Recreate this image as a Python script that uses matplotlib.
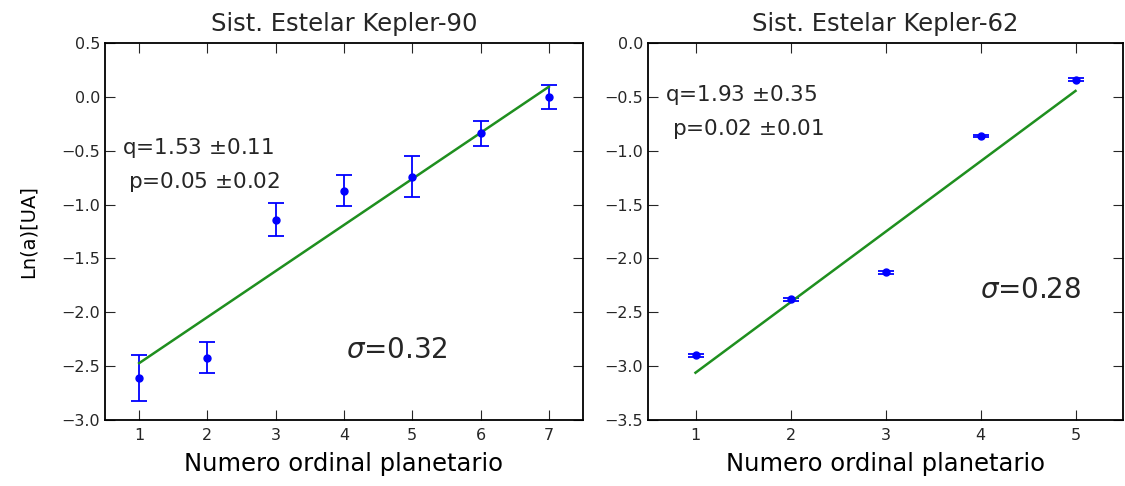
import numpy as np
import matplotlib
matplotlib.use("Agg")
import matplotlib.pyplot as plt

# Datos Kepler-90
n_k90 = [1, 2, 3, 4, 5, 6, 7]
lna_k90 = [-2.61, -2.42, -1.14, -0.87, -0.74, -0.34, 0.00]
err_k90 = [0.21, 0.14, 0.15, 0.14, 0.19, 0.12, 0.11]
fit_k90 = [-2.90, 0.4277]   # intercepto, pendiente

# Datos Kepler-62
n_k62 = [1, 2, 3, 4, 5]
lna_k62 = [-2.90, -2.38, -2.13, -0.86, -0.34]
err_k62 = [0.012, 0.012, 0.010, 0.010, 0.012]
fit_k62 = [-3.715, 0.654]

titulos = ["Sist. Estelar Kepler-90", "Sist. Estelar Kepler-62"]
xlabel = "Numero ordinal planetario"
ylabel = "Ln(a)[UA]"

plt.rcParams['font.family'] = 'DejaVu Sans'
plt.rcParams['xtick.direction'] = 'in'
plt.rcParams['ytick.direction'] = 'in'
plt.rcParams['xtick.top'] = True
plt.rcParams['ytick.right'] = True
plt.rcParams['xtick.major.size'] = 7.5
plt.rcParams['ytick.major.size'] = 7.5
plt.rcParams['xtick.major.pad'] = 6
plt.rcParams['axes.linewidth'] = 1.3
plt.rcParams['text.color'] = '#262626'
plt.rcParams['xtick.color'] = '#262626'
plt.rcParams['ytick.color'] = '#262626'

fig = plt.figure(figsize=(11.25, 4.86), dpi=100)
ax1 = fig.add_axes([105/1125, 66/486, 478/1125, 377/486])
ax2 = fig.add_axes([648/1125, 66/486, 475/1125, 377/486])


def panel(ax, n, lna, err, fit, titulo):
    ax.errorbar(n, lna, yerr=err, fmt='o', color='b', ecolor='b',
                markersize=5, capsize=5.5, elinewidth=1.3, capthick=1.3,
                markeredgecolor='b')
    x = np.array([n[0], n[-1]], dtype=float)
    ax.plot(x, fit[0] + fit[1] * x, color='#1f8f1f', lw=1.8)
    ax.set_title(titulo, fontsize=17.5, pad=9)
    ax.set_xlabel(xlabel, fontsize=17.5, labelpad=6)
    ax.tick_params(labelsize=11.5)
    ax.set_xlim(0.5, n[-1] + 0.5)
    ax.set_xticks(n)


panel(ax1, n_k90, lna_k90, err_k90, fit_k90, titulos[0])
ax1.set_ylim(-3.0, 0.5)
ax1.set_yticks(np.arange(-3.0, 0.51, 0.5))
ax1.set_ylabel(ylabel, fontsize=14, labelpad=17)
ax1.text(0.744, -0.533, r'q=1.53 $\pm$0.11', fontsize=15.5, va='baseline')
ax1.text(0.836, -0.85, r'p=0.05 $\pm$0.02', fontsize=15.5, va='baseline')
ax1.text(4.03, -2.42, r'$\sigma$=0.32', fontsize=20, va='baseline')

panel(ax2, n_k62, lna_k62, err_k62, fit_k62, titulos[1])
ax2.set_ylim(-3.5, 0.0)
ax2.set_yticks(np.arange(-3.5, 0.01, 0.5))
ax2.text(0.678, -0.539, r'q=1.93 $\pm$0.35', fontsize=15.5, va='baseline')
ax2.text(0.755, -0.855, r'p=0.02 $\pm$0.01', fontsize=15.5, va='baseline')
ax2.text(4.0, -2.37, r'$\sigma$=0.28', fontsize=20, va='baseline')

fig.savefig("out.png", dpi=100)
